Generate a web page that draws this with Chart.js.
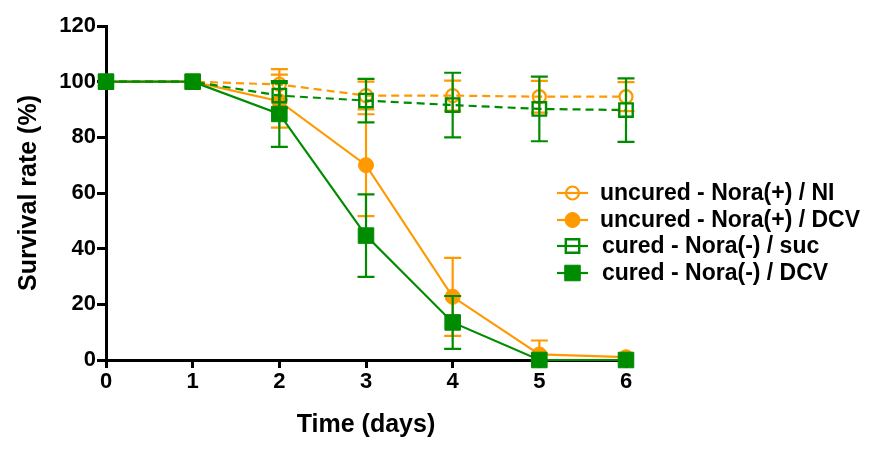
<!DOCTYPE html>
<html>
<head>
<meta charset="utf-8">
<script src="https://cdn.jsdelivr.net/npm/chart.js@4.4.0/dist/chart.umd.min.js"></script>
<style>
  html, body { margin: 0; padding: 0; background: #fff; }
  #wrap { width: 873px; height: 452px; }
</style>
</head>
<body>
<div id="wrap"><canvas id="survivalChart" width="873" height="452"></canvas></div>
<script>
// data
const days = [0, 1, 2, 3, 4, 5, 6];
const seriesNames = [
    'uncured - Nora(+) / NI',
    'uncured - Nora(+) / DCV',
    'cured - Nora(-) / suc',
    'cured - Nora(-) / DCV'
];
const uncuredNI = [100, 100, 99, 95, 95, 94.6, 94.6];
const uncuredNIErr = [0, 0, 5.5, 5, 5.4, 5.7, 5.2];
const uncuredDCV = [100, 100, 93, 70, 22.7, 2, 1];
const uncuredDCVErr = [0, 0, 9.5, 18.3, 14, 5, 0];
const curedSuc = [100, 100, 95, 93.2, 91.6, 90.2, 89.8];
const curedSucErr = [0, 0, 4.5, 7.8, 11.6, 11.6, 11.4];
const curedDCV = [100, 100, 88.4, 44.7, 13.5, 0, 0];
const curedDCVErr = [0, 0, 11.8, 14.8, 9.5, 0, 0];
const yTicks = [0, 20, 40, 60, 80, 100, 120];

const ORANGE = '#FF9900';
const GREEN = '#008C00';
const FONT = "'Liberation Sans', Arial, sans-serif";

function toPoints(values) {
    return days.map((d, i) => ({ x: d, y: values[i] }));
}

// draws a marker the way the chart does, used by the legend
function drawMarker(ctx, ds, x, y) {
    ctx.save();
    ctx.lineWidth = ds.pointBorderWidth;
    ctx.strokeStyle = ds.borderColor;
    ctx.fillStyle = ds.pointBackgroundColor;
    ctx.beginPath();
    if (ds.pointStyle === 'rect') {
        const s = ds.pointRadius * Math.SQRT1_2;
        ctx.rect(x - s, y - s, 2 * s, 2 * s);
    } else {
        ctx.arc(x, y, ds.pointRadius, 0, Math.PI * 2);
    }
    ctx.fill();
    ctx.stroke();
    ctx.restore();
}

// SEM bars, drawn right after each dataset
const errorBars = {
    id: 'errorBars',
    afterDatasetDraw(chart, args) {
        const ds = chart.data.datasets[args.index];
        const yScale = chart.scales.y;
        const ctx = chart.ctx;
        ctx.save();
        ctx.strokeStyle = ds.borderColor;
        ctx.lineWidth = 2.2;
        ctx.setLineDash([]);
        args.meta.data.forEach((pt, i) => {
            const e = ds.errors[i];
            if (!e) return;
            const v = ds.data[i].y;
            const top = yScale.getPixelForValue(v + e);
            const bot = yScale.getPixelForValue(Math.max(0, v - e));
            ctx.beginPath();
            ctx.moveTo(pt.x, top); ctx.lineTo(pt.x, bot);
            ctx.moveTo(pt.x - 8.5, top); ctx.lineTo(pt.x + 8.5, top);
            ctx.moveTo(pt.x - 8.5, bot); ctx.lineTo(pt.x + 8.5, bot);
            ctx.stroke();
        });
        ctx.restore();
    }
};

// legend sits inside the plot, on the right
const sideLegend = {
    id: 'sideLegend',
    afterDraw(chart) {
        const ctx = chart.ctx;
        const rows = [193, 220, 246, 273];
        chart.data.datasets.forEach((ds, i) => {
            const y = rows[i];
            ctx.save();
            ctx.strokeStyle = ds.borderColor;
            ctx.lineWidth = 2.2;
            ctx.beginPath();
            ctx.moveTo(557, y);
            ctx.lineTo(588, y);
            ctx.stroke();
            ctx.restore();
            drawMarker(ctx, ds, 572.5, y);
            ctx.save();
            ctx.fillStyle = '#000';
            ctx.font = 'bold 23px ' + FONT;
            ctx.textAlign = 'left';
            ctx.textBaseline = 'middle';
            ctx.fillText(ds.label, i < 2 ? 600 : 602, y + 1);
            ctx.restore();
        });
    }
};

function initChart() {
    const ctx = document.getElementById('survivalChart').getContext('2d');
    new Chart(ctx, {
        type: 'line',
        data: {
            datasets: [{
                label: seriesNames[0],
                data: toPoints(uncuredNI),
                errors: uncuredNIErr,
                borderColor: ORANGE,
                borderWidth: 2.2,
                borderDash: [8, 5],
                pointStyle: 'circle',
                pointRadius: 6.5,
                pointBorderWidth: 2.2,
                pointBackgroundColor: 'rgba(0,0,0,0)',
                order: 3
            }, {
                label: seriesNames[1],
                data: toPoints(uncuredDCV),
                errors: uncuredDCVErr,
                borderColor: ORANGE,
                borderWidth: 2.2,
                pointStyle: 'circle',
                pointRadius: 7.5,
                pointBorderWidth: 1,
                pointBackgroundColor: ORANGE,
                order: 2
            }, {
                label: seriesNames[2],
                data: toPoints(curedSuc),
                errors: curedSucErr,
                borderColor: GREEN,
                borderWidth: 2.2,
                borderDash: [8, 5],
                pointStyle: 'rect',
                pointRadius: 9.5,
                pointBorderWidth: 2.4,
                pointBackgroundColor: 'rgba(0,0,0,0)',
                order: 1
            }, {
                label: seriesNames[3],
                data: toPoints(curedDCV),
                errors: curedDCVErr,
                borderColor: GREEN,
                borderWidth: 2.2,
                pointStyle: 'rect',
                pointRadius: 11,
                pointBorderWidth: 1,
                pointBackgroundColor: GREEN,
                order: 0
            }]
        },
        options: {
            responsive: false,
            animation: false,
            devicePixelRatio: 1,
            clip: false,
            layout: { padding: { left: 0, right: 247, top: 26, bottom: 0 } },
            plugins: {
                legend: { display: false },
                tooltip: { enabled: false }
            },
            scales: {
                x: {
                    type: 'linear',
                    min: 0,
                    max: 6,
                    afterFit: s => { s.height = 92; },
                    afterBuildTicks: s => { s.ticks = days.map(v => ({ value: v })); },
                    grid: { drawOnChartArea: false, tickLength: 8, tickWidth: 3, tickColor: '#000' },
                    border: { display: true, width: 3, color: '#000' },
                    ticks: { color: '#000', padding: 1, font: { family: FONT, size: 22, weight: 'bold' } },
                    title: {
                        display: true,
                        text: 'Time (days)',
                        color: '#000',
                        padding: { top: 0, bottom: 12 },
                        font: { family: FONT, size: 25, weight: 'bold' }
                    }
                },
                y: {
                    min: 0,
                    max: 120,
                    afterFit: s => { s.width = 106; },
                    afterBuildTicks: s => { s.ticks = yTicks.map(v => ({ value: v })); },
                    grid: { drawOnChartArea: false, tickLength: 9, tickWidth: 3, tickColor: '#000' },
                    border: { display: true, width: 3, color: '#000' },
                    ticks: { color: '#000', padding: 1, font: { family: FONT, size: 22, weight: 'bold' } },
                    title: {
                        display: true,
                        text: 'Survival rate (%)',
                        color: '#000',
                        padding: { top: 14, bottom: 0 },
                        font: { family: FONT, size: 25, weight: 'bold' }
                    }
                }
            }
        },
        plugins: [errorBars, sideLegend]
    });
}

document.addEventListener('DOMContentLoaded', initChart);
</script>
</body>
</html>
